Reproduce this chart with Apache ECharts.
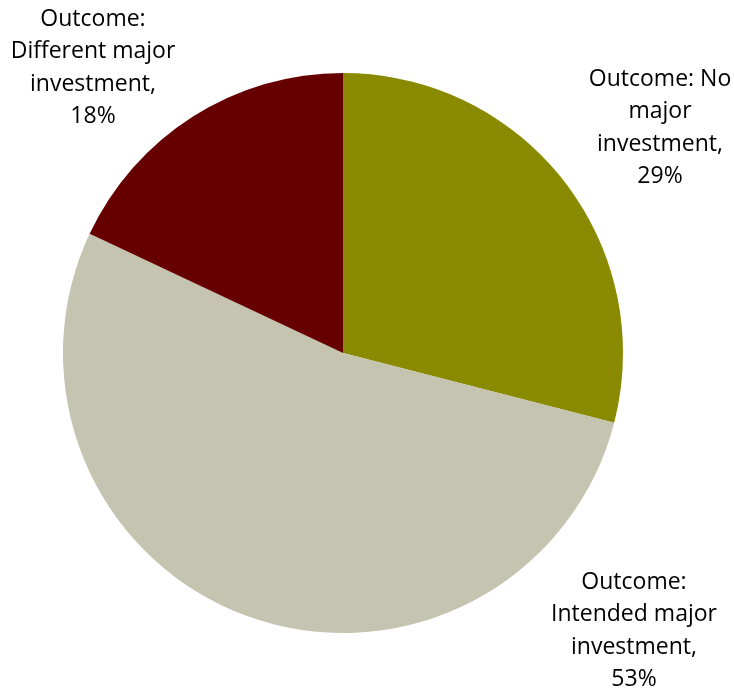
<!DOCTYPE html>
<html>
<head>
<meta charset="utf-8">
<script src="https://cdn.jsdelivr.net/npm/echarts@6/dist/echarts.min.js"></script>
<style>
  html, body { margin: 0; padding: 0; background: #ffffff; }
  #chart { width: 734px; height: 690px; }
</style>
</head>
<body>
<div id="chart"></div>
<script>
// Outcome shares, clockwise from 12 o'clock
const categories = [
  'Outcome: No\nmajor\ninvestment',
  'Outcome:\nIntended major\ninvestment',
  'Outcome:\nDifferent major\ninvestment'
];
const shares = [29, 53, 18];
const colors = ['#8A8A00', '#C4C4B0', '#660000'];

// Anchor (centre of the text block's top edge) for each label
const labelAnchors = [
  [660, 63],
  [634, 566],
  [93, 3]
];

const chart = echarts.init(document.getElementById('chart'), null, { renderer: 'canvas' });

chart.setOption({
  animation: false,
  backgroundColor: '#ffffff',
  series: [{
    type: 'pie',
    center: [343, 353],
    radius: 280,
    startAngle: 90,
    clockwise: true,
    avoidLabelOverlap: false,
    data: categories.map((name, i) => ({
      name: name,
      value: shares[i],
      itemStyle: { color: colors[i] }
    })),
    itemStyle: { borderWidth: 0 },
    label: {
      show: true,
      position: 'outside',
      formatter: '{b},\n{c}%',
      fontFamily: 'Open Sans',
      fontSize: 23,
      lineHeight: 32.5,
      color: '#000000',
      align: 'center'
    },
    labelLine: { show: false },
    labelLayout: function (params) {
      const a = labelAnchors[params.dataIndex];
      return { x: a[0], y: a[1], align: 'center', verticalAlign: 'top' };
    },
    emphasis: { disabled: true }
  }]
});
</script>
</body>
</html>
